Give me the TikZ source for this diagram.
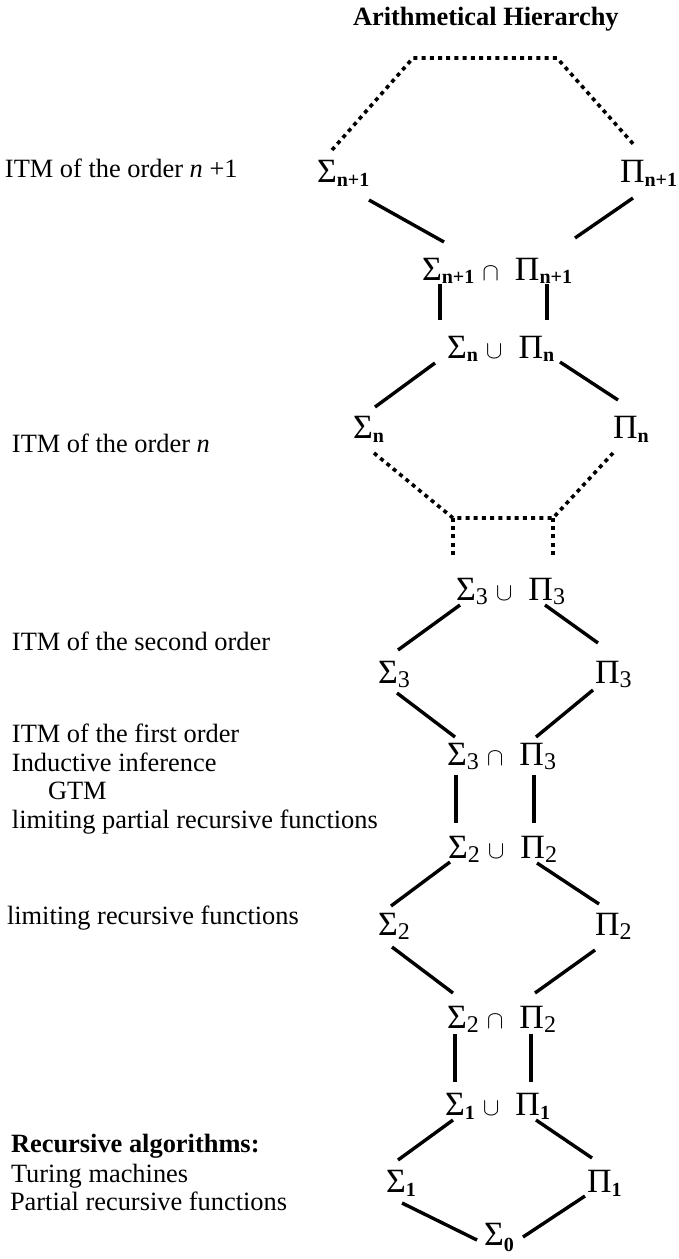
\documentclass[tikz,border=0pt]{standalone}
\usepackage{fix-cm}
\usepackage{fontspec}
\setmainfont{Liberation Serif}

% Greek class symbols with their lowered indices
\newcommand{\greekfont}{\fontsize{34}{34}\selectfont}
\newcommand{\idxb}[2]{\raisebox{-#1pt}{\fontsize{20}{20}\selectfont\bfseries #2}}
\newcommand{\idxr}[2]{\raisebox{-#1pt}{\fontsize{24}{24}\selectfont #2}}
\newcommand{\Sg}[1]{{\greekfont Σ}#1}
\newcommand{\Pp}[1]{{\greekfont Π}#1}
\newcommand{\opsym}[1]{{\fontsize{25}{25}\selectfont$#1$}}
\newcommand{\pairlabel}[3]{#1\kern8pt\opsym{#2}\kern16pt#3}

\begin{document}
\begin{tikzpicture}[x=1pt, y=-1pt,
  lbl/.style={inner sep=0pt, outer sep=0pt, anchor=base west,
              font=\fontsize{26.4}{29}\selectfont},
  cls/.style={inner sep=0pt, outer sep=0pt, anchor=base west},
  edge/.style={line width=3.4pt, line cap=butt},
  dots/.style={line width=3.6pt, line cap=butt, dash pattern=on 4pt off 4.2pt}]

\useasboundingbox (0,0) rectangle (678,1259);

% title
\node[lbl, font=\fontsize{26.4}{29}\selectfont\bfseries] (title) at (353,25) {Arithmetical Hierarchy};

% left-hand descriptions
\node[lbl] (tN1) at (5,177) {ITM of the order \textit{n} +1};
\node[lbl] (tN)  at (12,452) {ITM of the order \textit{n}};
\node[lbl] (tT2) at (12,650) {ITM of the second order};
\node[lbl] (tF1) at (12,742) {ITM of the first order};
\node[lbl] (tF2) at (12,771) {Inductive inference};
\node[lbl] (tF3) at (48,799) {GTM};
\node[lbl] (tF4) at (12,828) {limiting partial recursive functions};
\node[lbl] (tL)  at (7,924) {limiting recursive functions};
\node[lbl, font=\fontsize{26.4}{29}\selectfont\bfseries] (tR1) at (11,1152) {Recursive algorithms:};
\node[lbl] (tR2) at (11,1182) {Turing machines};
\node[lbl] (tR3) at (10,1210) {Partial recursive functions};

% hierarchy classes
\node[cls] (sN1)   at (317,182)  {\Sg{\idxb{4}{n+1}}};
\node[cls] (pN1)   at (620,182)  {\Pp{\idxb{4}{n+1}}};
\node[cls] (capN1) at (422,280)  {\pairlabel{\Sg{\idxb{3}{n+1}}}{\cap}{\Pp{\idxb{3}{n+1}}}};
\node[cls] (cupN)  at (447,358)  {\pairlabel{\Sg{\idxb{3}{n}}}{\cup}{\Pp{\idxb{3}{n}}}};
\node[cls] (sN)    at (353,438)  {\Sg{\idxb{4}{n}}};
\node[cls] (pN)    at (613,438)  {\Pp{\idxb{4}{n}}};
\node[cls] (cup3)  at (456,600)  {\pairlabel{\Sg{\idxr{4}{3}}}{\cup}{\Pp{\idxr{4}{3}}}};
\node[cls] (s3)    at (378,683)  {\Sg{\idxr{4}{3}}};
\node[cls] (p3)    at (595,683)  {\Pp{\idxr{4}{3}}};
\node[cls] (cap3)  at (447,765)  {\pairlabel{\Sg{\idxr{4}{3}}}{\cap}{\Pp{\idxr{4}{3}}}};
\node[cls] (cup2)  at (448,858)  {\pairlabel{\Sg{\idxr{4}{2}}}{\cup}{\Pp{\idxr{4}{2}}}};
\node[cls] (s2)    at (378,935)  {\Sg{\idxr{4}{2}}};
\node[cls] (p2)    at (595,935)  {\Pp{\idxr{4}{2}}};
\node[cls] (cap2)  at (447,1028) {\pairlabel{\Sg{\idxr{4}{2}}}{\cap}{\Pp{\idxr{4}{2}}}};
\node[cls] (cup1)  at (445,1115) {\pairlabel{\Sg{\idxb{4}{1}}}{\cup}{\Pp{\idxb{4}{1}}}};
\node[cls] (s1)    at (386,1192) {\Sg{\idxb{4}{1}}};
\node[cls] (p1)    at (587,1192) {\Pp{\idxb{4}{1}}};
\node[cls] (s0)    at (484,1245) {\Sg{\idxb{6}{0}}};

% corners of the dotted links
\coordinate (topL) at (413,58);
\coordinate (topR) at (557,58);
\coordinate (gapL) at (453,518);
\coordinate (gapR) at (553,518);

% dotted links: levels above n+1 and between n and 3
\draw[dots] ([shift={(15,-32)}]sN1.base west) -- (topL) -- (topR) -- ([shift={(15,-36)}]pN1.base west);
\draw[dots] ([shift={(21,15)}]sN.base west) -- (gapL) -- (gapR) -- ([shift={(0,15)}]pN.base west);
\draw[dots] (gapL) -- ([shift={(-3,-45)}]cup3.base west);
\draw[dots] (gapR) -- ([shift={(97,-45)}]cup3.base west);

% level n+1
\draw[edge] ([shift={(52,18)}]sN1.base west) -- ([shift={(22,-38)}]capN1.base west);
\draw[edge] ([shift={(13,16)}]pN1.base west) -- ([shift={(153,-42)}]capN1.base west);
\draw[edge] ([shift={(18,4)}]capN1.base west) -- ([shift={(-7,-38)}]cupN.base west);
\draw[edge] ([shift={(125,4)}]capN1.base west) -- ([shift={(100,-38)}]cupN.base west);
\draw[edge] ([shift={(-12,5)}]cupN.base west) -- ([shift={(22,-31)}]sN.base west);
\draw[edge] ([shift={(113,4)}]cupN.base west) -- ([shift={(5,-38)}]pN.base west);

% level 3
\draw[edge] ([shift={(4,5)}]cup3.base west) -- ([shift={(20,-33)}]s3.base west);
\draw[edge] ([shift={(89,5)}]cup3.base west) -- ([shift={(3,-40)}]p3.base west);
\draw[edge] ([shift={(19,10)}]s3.base west) -- ([shift={(8,-28)}]cap3.base west);
\draw[edge] ([shift={(-2,7)}]p3.base west) -- ([shift={(89,-28)}]cap3.base west);
\draw[edge] ([shift={(9,10)}]cap3.base west) -- ([shift={(8,-35)}]cup2.base west);
\draw[edge] ([shift={(87,10)}]cap3.base west) -- ([shift={(86,-35)}]cup2.base west);

% level 2
\draw[edge] ([shift={(2,4)}]cup2.base west) -- ([shift={(13,-29)}]s2.base west);
\draw[edge] ([shift={(89,5)}]cup2.base west) -- ([shift={(4,-31)}]p2.base west);
\draw[edge] ([shift={(14,12)}]s2.base west) -- ([shift={(6,-35)}]cap2.base west);
\draw[edge] ([shift={(0,15)}]p2.base west) -- ([shift={(88,-35)}]cap2.base west);
\draw[edge] ([shift={(8,6)}]cap2.base west) -- ([shift={(10,-33)}]cup1.base west);
\draw[edge] ([shift={(84,6)}]cap2.base west) -- ([shift={(86,-33)}]cup1.base west);

% level 1 and the bottom
\draw[edge] ([shift={(8,5)}]cup1.base west) -- ([shift={(12,-32)}]s1.base west);
\draw[edge] ([shift={(91,5)}]cup1.base west) -- ([shift={(5,-34)}]p1.base west);
\draw[edge] ([shift={(16,11)}]s1.base west) -- ([shift={(-7,-5)}]s0.base west);
\draw[edge] ([shift={(-2,4)}]p1.base west) -- ([shift={(39,-8)}]s0.base west);

\end{tikzpicture}
\end{document}
